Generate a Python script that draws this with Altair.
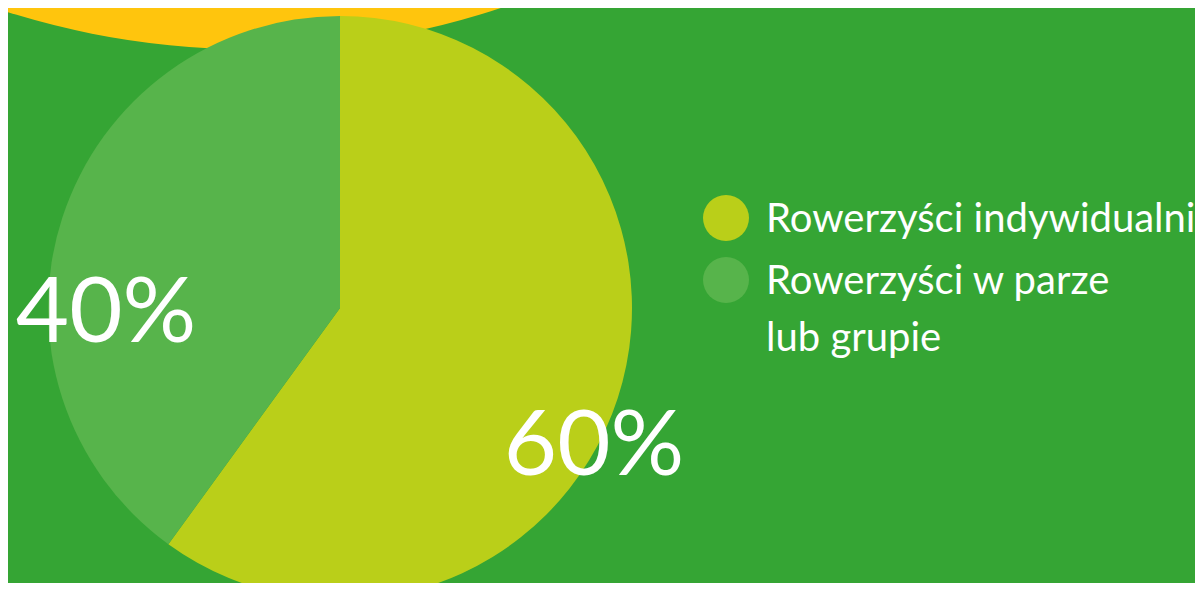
import altair as alt
import pandas as pd

# --- data ---
categories = ["Rowerzyści indywidualni", "Rowerzyści w parze\nlub grupie"]
values = [60, 40]
colors = ["#BACF19", "#57B44B"]
pct_labels = ["60%", "40%"]

BG = "#35A534"
SUN = "#FFC50D"

W, H = 1187, 575

pie_df = pd.DataFrame({"cat": categories, "value": values, "order": [0, 1]})
color_scale = alt.Scale(domain=categories, range=colors)

base = alt.Chart(pie_df)

# decorative sun shape at top
sun = alt.Chart(pd.DataFrame({"a": [1]})).mark_arc(
    radius=800, theta=0, theta2=6.2832, color=SUN
).encode(x=alt.value(240), y=alt.value(-759))

pie = base.mark_arc(radius=292).encode(
    theta=alt.Theta("value:Q", stack=True),
    order=alt.Order("order:Q"),
    color=alt.Color("cat:N", scale=color_scale, legend=None),
    x=alt.value(332),
    y=alt.value(300),
)

lab60 = alt.Chart(pd.DataFrame({"t": [pct_labels[0]]})).mark_text(
    font="Lato", fontSize=92, color="white", align="center", baseline="alphabetic"
).encode(text="t:N", x=alt.value(586), y=alt.value(467))

lab40 = alt.Chart(pd.DataFrame({"t": [pct_labels[1]]})).mark_text(
    font="Lato", fontSize=92, color="white", align="center", baseline="alphabetic"
).encode(text="t:N", x=alt.value(98), y=alt.value(334))

leg_scale = alt.Scale(type="point", padding=0, domain=categories, range=[210, 272])

leg_dots = base.mark_circle(size=2116, opacity=1).encode(
    x=alt.value(718),
    y=alt.Y("cat:N", scale=leg_scale, axis=None),
    color=alt.Color("cat:N", scale=color_scale, legend=None),
)

leg_text = base.mark_text(
    font="Lato", fontSize=40, color="white", align="left",
    baseline="alphabetic", lineBreak="\n", lineHeight=57, dy=14
).encode(
    x=alt.value(758),
    y=alt.Y("cat:N", scale=leg_scale, axis=None),
    text="cat:N",
)

chart = alt.layer(sun, pie, lab60, lab40, leg_dots, leg_text).properties(
    width=W, height=H, padding=0, background=BG,
    autosize=alt.AutoSizeParams(type="none"),
).configure_view(strokeWidth=0, fill=BG)

chart.save("out.html", embed_options={"renderer": "svg", "actions": False})
